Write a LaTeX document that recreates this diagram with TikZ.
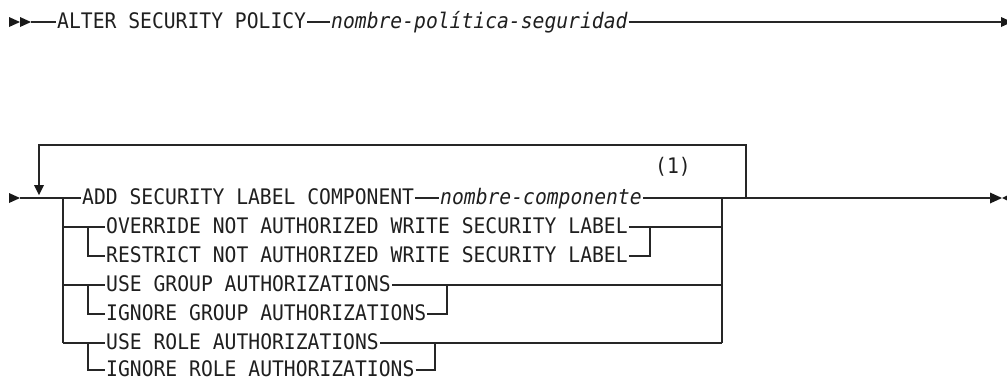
\documentclass[tikz,border=0pt]{standalone}
\usepackage{fontspec}
\newfontfamily\rrmono[FakeStretch=0.92]{DejaVu Sans Mono}
\begin{document}
\begin{tikzpicture}[x=1pt,y=-1pt,
  rr/.style={line width=1.2pt,draw=black!85},
  kw/.style={font=\rrmono\fontsize{21.4}{24}\selectfont,text=black!88,inner sep=0pt,inner xsep=1pt,text height=13pt,text depth=0pt,anchor=west},
  var/.style={kw,font=\rrmono\itshape\fontsize{21.4}{24}\selectfont},
  tip/.style={fill=black!90}]
\useasboundingbox (0,0) rectangle (1007,381);
% ---------- first diagram ----------
\coordinate (a0) at (31,22);
\coordinate (a1) at (1002,22);
\fill[tip] (9,17) -- (20,22) -- (9,27) -- cycle;
\fill[tip] (20,17) -- (31,22) -- (20,27) -- cycle;
\fill[tip] (1001,17) -- (1012,22) -- (1001,27) -- cycle;
\node[kw] (alter) at (56,22) {ALTER SECURITY POLICY};
\node[var] (pol) at (330,22) {nombre-política-seguridad};
\draw[rr] (a0) -- (alter.west);
\draw[rr] (alter.east) -- (pol.west);
\draw[rr] (pol.east) -- (a1);
% ---------- second diagram ----------
\coordinate (b0) at (20,198);
\coordinate (jl) at (63,198);
\coordinate (jr) at (722,198);
\coordinate (lp) at (746,198);
\coordinate (b1) at (991,198);
\fill[tip] (9,193) -- (20,198) -- (9,203) -- cycle;
\fill[tip] (990,192.5) -- (1002,198) -- (990,203.5) -- cycle;
\fill[tip] (1013,192.5) -- (1002,198) -- (1013,203.5) -- cycle;
% loop
\draw[rr] (lp) -- (746,145) -- (39,145) -- (39,187);
\fill[tip] (34,185) -- (44,185) -- (39,195) -- cycle;
% nodes
\node[kw] (add) at (81,198) {ADD SECURITY LABEL COMPONENT};
\node[var] (comp) at (439,198) {nombre-componente};
\node[kw,anchor=base west] (note) at (654,173) {(1)};
\node[kw] (ovr) at (105,227) {OVERRIDE NOT AUTHORIZED WRITE SECURITY LABEL};
\node[kw] (res) at (105,256) {RESTRICT NOT AUTHORIZED WRITE SECURITY LABEL};
\node[kw] (useg) at (105,285) {USE GROUP AUTHORIZATIONS};
\node[kw] (igng) at (105,314) {IGNORE GROUP AUTHORIZATIONS};
\node[kw] (user) at (105,343) {USE ROLE AUTHORIZATIONS};
\node[kw] (ignr) at (105,370) {IGNORE ROLE AUTHORIZATIONS};
% main line
\draw[rr] (b0) -- (add.west);
\draw[rr] (add.east) -- (comp.west);
\draw[rr] (comp.east) -- (jr) -- (b1);
\draw[line width=2pt,draw=black!85] (752,197.6) -- (775,197.6);
% main verticals
\draw[rr] (jl) -- (63,343);
\draw[rr] (jr) -- (722,343);
% group A
\draw[rr] (63,227) -- (ovr.west);
\draw[rr] (88,227) -- (88,256) -- (res.west);
\draw[rr] (ovr.east) -- (722,227);
\draw[rr] (res.east) -- (650,256) -- (650,227);
% group B
\draw[rr] (63,285) -- (useg.west);
\draw[rr] (88,285) -- (88,314) -- (igng.west);
\draw[rr] (useg.east) -- (722,285);
\draw[rr] (igng.east) -- (447,314) -- (447,285);
% group C
\draw[rr] (63,343) -- (user.west);
\draw[rr] (88,343) -- (88,370) -- (ignr.west);
\draw[rr] (user.east) -- (722,343);
\draw[rr] (ignr.east) -- (435,370) -- (435,343);
\end{tikzpicture}
\end{document}
